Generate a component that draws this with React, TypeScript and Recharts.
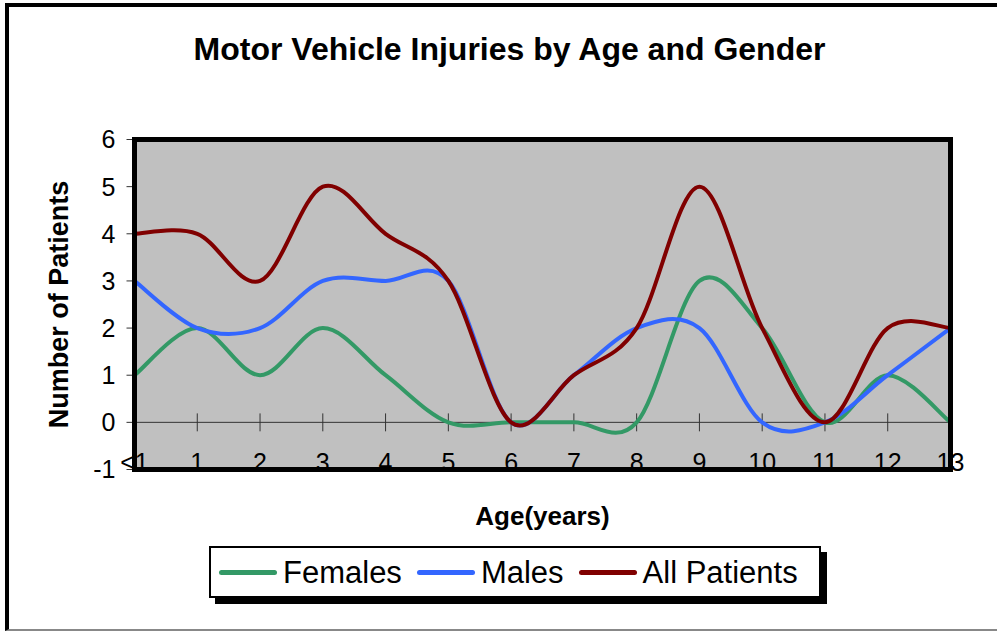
import React from 'react';
import { LineChart, Line, XAxis, YAxis, CartesianGrid, ReferenceLine, Legend, Customized } from 'recharts';

const ages = ['<1', '1', '2', '3', '4', '5', '6', '7', '8', '9', '10', '11', '12', '13'];
const females = [1, 2, 1, 2, 1, 0, 0, 0, 0, 3, 2, 0, 1, 0];
const males = [3, 2, 2, 3, 3, 3, 0, 1, 2, 2, 0, 0, 1, 2];
const allPatients = [4, 4, 3, 5, 4, 3, 0, 1, 2, 5, 2, 0, 2, 2];
const yTicks = [-1, 0, 1, 2, 3, 4, 5, 6];
const seriesNames = ['Females', 'Males', 'All Patients'];
const seriesColors = ['#339966', '#3366FF', '#800000'];
const seriesValues = [females, males, allPatients];

const data = ages.map((age, i) => {
  const row: any = { age };
  seriesNames.forEach((n, s) => { row[n] = seriesValues[s][i]; });
  return row;
});

const FONT = "'Liberation Sans', Arial, sans-serif";

// Excel-like smoothed line (Catmull-Rom spline, endpoints duplicated)
function excelSmooth(context: any) {
  let xs: number[] = [];
  let ys: number[] = [];
  return {
    areaStart() {},
    areaEnd() {},
    lineStart() { xs = []; ys = []; },
    point(x: number, y: number) { xs.push(+x); ys.push(+y); },
    lineEnd() {
      const n = xs.length;
      if (n === 0) return;
      context.moveTo(xs[0], ys[0]);
      for (let i = 0; i < n - 1; i++) {
        const i0 = Math.max(i - 1, 0);
        const i3 = Math.min(i + 2, n - 1);
        const x0 = xs[i0], y0 = ys[i0], x1 = xs[i], y1 = ys[i];
        const x2 = xs[i + 1], y2 = ys[i + 1], x3 = xs[i3], y3 = ys[i3];
        context.bezierCurveTo(
          x1 + (x2 - x0) / 6, y1 + (y2 - y0) / 6,
          x2 - (x3 - x1) / 6, y2 - (y3 - y1) / 6,
          x2, y2
        );
      }
    },
  };
}

const XTick = (props: any) => {
  const { x, y, payload } = props;
  return (
    <text x={x} y={y} dy={1} textAnchor="middle" fontSize={25} fontFamily={FONT} fill="#000">
      {payload.value}
    </text>
  );
};

const Titles = () => (
  <g fontFamily={FONT} fontWeight="bold" fill="#000">
    <text x={509.5} y={60} textAnchor="middle" fontSize={32}>Motor Vehicle Injuries by Age and Gender</text>
    <text x={542.5} y={525} textAnchor="middle" fontSize={26}>Age(years)</text>
    <text transform="translate(68,304.5) rotate(-90)" textAnchor="middle" fontSize={27}>Number of Patients</text>
  </g>
);

const LegendBox = () => (
  <div
    style={{
      boxSizing: 'border-box', width: 612, height: 52, border: '2px solid #000',
      boxShadow: '6px 6px 0 #000', background: '#fff', display: 'flex', alignItems: 'center',
      paddingLeft: 8, fontFamily: FONT, fontSize: 31, color: '#000',
    }}
  >
    {seriesNames.map((n, i) => (
      <div key={n} style={{ display: 'flex', alignItems: 'center', marginRight: 15 }}>
        <div style={{ width: 58, height: 5, borderRadius: 3, background: seriesColors[i], marginRight: 6 }} />
        <span style={{ lineHeight: 1, whiteSpace: 'nowrap' }}>{n}</span>
      </div>
    ))}
  </div>
);

export default function App() {
  return (
    <div style={{ position: 'absolute', left: 0, top: 0, width: 997, height: 632, overflow: 'hidden', background: '#fff' }}>
      <div
        style={{
          position: 'absolute', left: 5, top: 3, width: 992, height: 628, boxSizing: 'border-box',
          borderTop: '4px solid #000', borderLeft: '4px solid #000', borderBottom: '2px solid #888',
        }}
      />
      <div style={{ position: 'absolute', left: 0, top: 0 }}>
        <LineChart
          width={997}
          height={632}
          data={data}
          margin={{ top: 139.5, right: 46.5, bottom: 132.5, left: 0 }}
        >
          <CartesianGrid fill="#C0C0C0" stroke="none" horizontal={false} vertical={false} />
          <XAxis
            dataKey="age"
            interval={0}
            height={30}
            tickSize={0}
            tickMargin={0}
            axisLine={false}
            tickLine={false}
            tick={<XTick />}
          />
          <YAxis
            type="number"
            domain={[-1, 6]}
            ticks={yTicks}
            interval={0}
            width={134.5}
            tickSize={8}
            tickMargin={11}
            axisLine={false}
            tickLine={{ stroke: '#333', strokeWidth: 1 }}
            tick={{ fontSize: 25, fontFamily: FONT, fill: '#000' }}
          />
          <ReferenceLine y={0} stroke="#333" strokeWidth={1} />
          {ages.map((a) => (
            <ReferenceLine
              key={'t' + a}
              segment={[{ x: a, y: -0.19 }, { x: a, y: 0.19 }]}
              stroke="#333"
              strokeWidth={1}
            />
          ))}
          {seriesNames.map((n, i) => (
            <Line
              key={n}
              dataKey={n}
              type={excelSmooth as any}
              stroke={seriesColors[i]}
              strokeWidth={4}
              dot={false}
              activeDot={false}
              isAnimationActive={false}
            />
          ))}
          <Legend
            layout="horizontal"
            verticalAlign="middle"
            align="center"
            content={() => <LegendBox />}
            wrapperStyle={{ position: 'absolute', left: 209, top: 546, width: 612, height: 52 }}
          />
          <Customized component={<Titles />} />
        </LineChart>
      </div>
      <div
        style={{
          position: 'absolute', left: 132, top: 137, width: 821, height: 335,
          boxSizing: 'border-box', border: '5px solid #000', pointerEvents: 'none',
        }}
      />
    </div>
  );
}
